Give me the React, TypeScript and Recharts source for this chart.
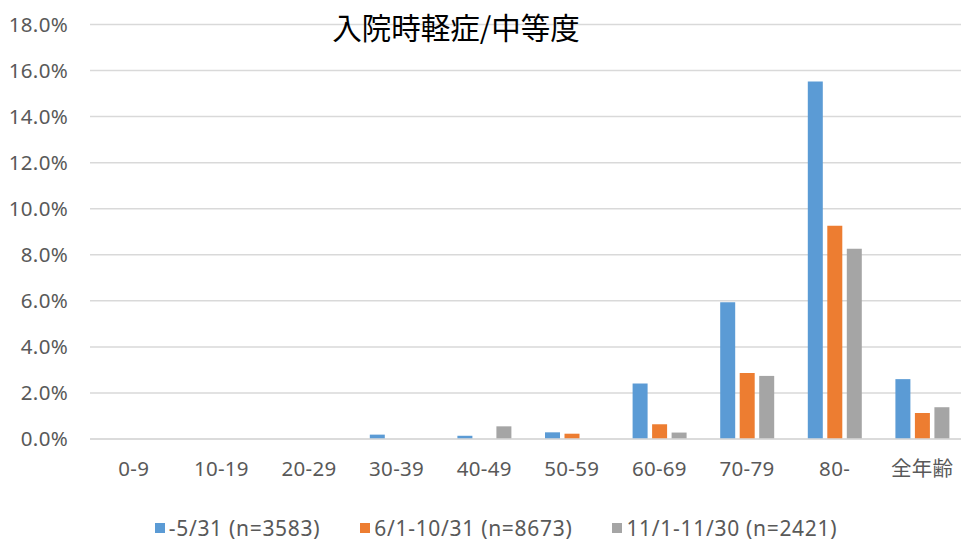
import React from "react";
import { BarChart, Bar, XAxis, YAxis, CartesianGrid, Legend } from "recharts";

const categories = ["0-9", "10-19", "20-29", "30-39", "40-49", "50-59", "60-69", "70-79", "80-", "全年齢"];
const seriesNames = ["-5/31 (n=3583)", "6/1-10/31 (n=8673)", "11/1-11/30 (n=2421)"];
const series1 = [0, 0, 0, 0.19, 0.14, 0.29, 2.41, 5.94, 15.52, 2.6];
const series2 = [0, 0, 0, 0, 0, 0.23, 0.64, 2.87, 9.26, 1.13];
const series3 = [0, 0, 0, 0, 0.55, 0, 0.28, 2.74, 8.26, 1.38];
const yTicks = [0, 2, 4, 6, 8, 10, 12, 14, 16, 18];
const title = "入院時軽症/中等度";

const colors = ["#5B9BD5", "#ED7D31", "#A5A5A5"];
const FONT = "'Noto Sans', 'Noto Sans CJK JP', sans-serif";

const data = categories.map((c, i) => ({
  name: c,
  s1: series1[i],
  s2: series2[i],
  s3: series3[i],
}));

const LegendContent = () => (
  <div
    style={{
      height: 28,
      boxSizing: "border-box",
      display: "flex",
      alignItems: "center",
      justifyContent: "center",
      fontFamily: FONT,
      fontSize: 21,
      lineHeight: "26px",
      letterSpacing: 0.7,
      color: "#595959",
      paddingLeft: 26,
    }}
  >
    {seriesNames.map((n, i) => (
      <div key={n} style={{ display: "flex", alignItems: "center", marginRight: i < 2 ? 40 : 0 }}>
        <span style={{ width: 10, height: 10, background: colors[i], display: "inline-block", marginRight: 4 }} />
        <span>{n}</span>
      </div>
    ))}
  </div>
);

export default function App() {
  return (
    <div
      style={{
        position: "absolute",
        left: 0,
        top: 0,
        width: 961,
        height: 544,
        overflow: "hidden",
        background: "#fff",
      }}
    >
      <BarChart
        width={975}
        height={544}
        data={data}
        margin={{ top: 24.5, right: 9, left: 0, bottom: 2 }}
        barSize={15}
        barGap={4.5}
      >
        <CartesianGrid vertical={false} stroke="#D9D9D9" strokeWidth={1.5} />
        <XAxis
          dataKey="name"
          height={75}
          axisLine={{ stroke: "#D9D9D9", strokeWidth: 1.5 }}
          tickLine={false}
          tick={{ fill: "#595959", fontSize: 20.5, fontFamily: FONT, letterSpacing: 0.3 }}
          tickMargin={16}
          interval={0}
        />
        <YAxis
          width={90}
          domain={[0, 18]}
          ticks={yTicks}
          axisLine={false}
          tickLine={false}
          tickSize={0}
          tickMargin={22}
          tick={{ fill: "#595959", fontSize: 20.5, fontFamily: FONT, letterSpacing: 0.3 }}
          tickFormatter={(v: number) => v.toFixed(1) + "%"}
        />
        <Legend verticalAlign="bottom" content={<LegendContent />} />
        <Bar dataKey="s1" name={seriesNames[0]} fill={colors[0]} isAnimationActive={false} />
        <Bar dataKey="s2" name={seriesNames[1]} fill={colors[1]} isAnimationActive={false} />
        <Bar dataKey="s3" name={seriesNames[2]} fill={colors[2]} isAnimationActive={false} />
      </BarChart>
      <div
        style={{
          position: "absolute",
          left: 456,
          top: 11,
          transform: "translateX(-50%)",
          fontFamily: "'Noto Sans CJK JP', sans-serif",
          fontSize: 29.5,
          lineHeight: "30px",
          color: "#000",
          whiteSpace: "nowrap",
        }}
      >
        {title}
      </div>
    </div>
  );
}
